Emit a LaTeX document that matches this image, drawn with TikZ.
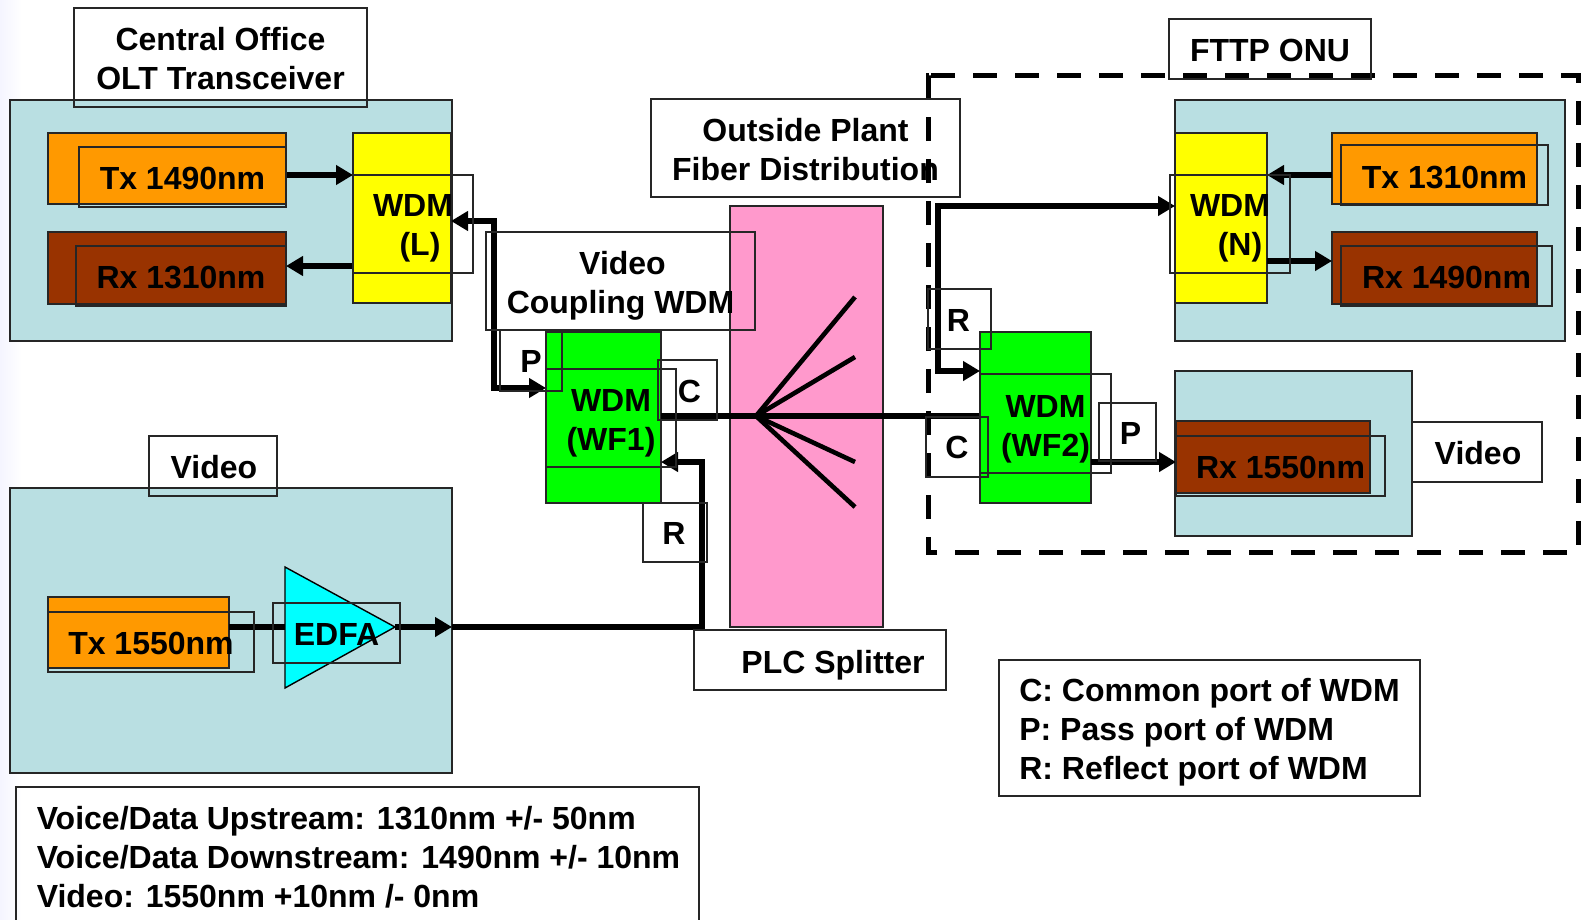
\documentclass[tikz,border=0pt]{standalone}
\usepackage{fontspec}
\setmainfont{Liberation Sans}
\usepackage{xcolor}
\usetikzlibrary{arrows.meta}

\definecolor{panelteal}{RGB}{185,223,226}
\definecolor{txorange}{RGB}{255,153,0}
\definecolor{rxbrown}{RGB}{153,51,0}
\definecolor{splitpink}{RGB}{255,153,204}
\definecolor{wdmyellow}{RGB}{255,255,0}
\definecolor{wdmgreen}{RGB}{0,255,0}
\definecolor{edfacyan}{RGB}{0,255,255}

\tikzset{
  area/.style 2 args={draw=black!85, line width=0.7pt, inner sep=0pt, outer sep=0pt,
    minimum width=#1*0.5pt, minimum height=#2*0.5pt},
  ltxt/.style={inner sep=0pt, align=center, font=\fontsize{16}{19.4}\selectfont\bfseries},
  fibre/.style={line width=2.7pt, black},
  fibrearrow/.style={fibre, -{Triangle[length=8.5pt,width=9.5pt]}},
  fibreboth/.style={fibre, {Triangle[length=8.5pt,width=9.5pt]}-{Triangle[length=8.5pt,width=9.5pt]}}
}

\begin{document}
\begin{tikzpicture}[x=0.5pt,y=-0.5pt]
\useasboundingbox (0,0) rectangle (1584,920);

% Faint edge of the slide
\shade [left color=blue!4, right color=white] (0,0) rectangle (22,920);

% Panels
\node[area={442}{241}, fill=panelteal] (copanel) at (231,220.5) {};
\node[area={442}{285}, fill=panelteal] (videopanel) at (231,630.5) {};
\node[area={390}{241}, fill=panelteal] (onupanel) at (1370,220.5) {};
\node[area={237}{165}, fill=panelteal] (rxvpanel) at (1293.5,453.5) {};

% Splitter
\node[area={153}{421}, fill=splitpink] (splitter) at (806.5,416.5) {};

% Coloured blocks
\node[area={238}{71}, fill=txorange] (txa) at (167,168.5) {};
\node[area={238}{72}, fill=rxbrown] (rxa) at (167,268) {};
\node[area={98}{170}, fill=wdmyellow] (wdml) at (402,218) {};
\node[area={92}{170}, fill=wdmyellow] (wdmn) at (1221,218) {};
\node[area={205}{71}, fill=txorange] (txb) at (1434.5,168.5) {};
\node[area={205}{72}, fill=rxbrown] (rxb) at (1434.5,268) {};
\node[area={115}{171}, fill=wdmgreen] (wfa) at (603.5,417.5) {};
\node[area={111}{171}, fill=wdmgreen] (wfb) at (1035.5,417.5) {};
\node[area={194}{72}, fill=rxbrown] (rxc) at (1273,457) {};
\node[area={181}{71}, fill=txorange] (txc) at (138.5,632.5) {};

\coordinate (edfaback) at (285,627);
\coordinate (edfatip) at (395,627);
\draw [draw=black, line width=0.7pt, fill=edfacyan] (285,567) -- (edfatip) -- (285,688) -- cycle;

% Levels of the fibre runs
\coordinate (txlevel) at (0,175);
\coordinate (rxlevel) at (0,266);
\coordinate (rxnlevel) at (0,261);
\coordinate (wdmllevel) at (0,221);
\coordinate (wdmnlevel) at (0,206);
\coordinate (plevel) at (0,388);
\coordinate (rlevel) at (0,371);
\coordinate (retlevel) at (0,462);
\coordinate (videolevel) at (0,627);
\coordinate (fanhub) at (756,416);
\coordinate (leftrun) at (494,0);
\coordinate (rightrun) at (938,0);
\coordinate (uprun) at (702,0);

% Fibre runs
\draw [fibrearrow] (txa.east |- txlevel) -- (wdml.west |- txlevel);
\draw [fibrearrow] (wdml.west |- rxlevel) -- (rxa.east |- rxlevel);
\draw [fibrearrow] (txb.west |- txlevel) -- (wdmn.east |- txlevel);
\draw [fibrearrow] (wdmn.east |- rxnlevel) -- (rxb.west |- rxnlevel);
\draw [fibreboth] (wfa.west |- plevel) -- (leftrun |- plevel) -- (leftrun |- wdmllevel) -- (wdml.east |- wdmllevel);
\draw [fibreboth] (wfb.west |- rlevel) -- (rightrun |- rlevel) -- (rightrun |- wdmnlevel) -- (wdmn.west |- wdmnlevel);
\draw [fibre] (wfa.east |- fanhub) -- (wfb.west |- fanhub);
\draw [fibrearrow] (wfb.east |- retlevel) -- (rxc.west |- retlevel);
\draw [fibre] (txc.east |- videolevel) -- (edfaback);
\draw [fibrearrow] (edfatip) -- (videopanel.east |- videolevel);
\draw [fibrearrow] (videopanel.east |- videolevel) -- (uprun |- videolevel) -- (uprun |- retlevel) -- (wfa.east |- retlevel);

% Splitter fan
\foreach \yend in {297,357,462,507}
{
  \coordinate (fanend) at (855,\yend);
  \draw [fibre, line width=2.3pt] (fanhub) -- (fanend);
}

% FTTP ONU outline
\draw [line width=2.5pt, dash pattern=on 12pt off 9pt] (931,76) -- (1578,76) -- (1578,552) -- (928,552) -- (928,76) -- (931,76);

% Text boxes
\node[area={293}{99}] (colabel) at (220.5,57.5) {};
\node[ltxt] (cotext) at (220.5,58.5) {Central Office\hspace{3pt}\\OLT Transceiver};
\node[area={207}{60}] (txalabel) at (182.5,177) {};
\node[ltxt] (txatext) at (182.5,178) {Tx 1490nm};
\node[area={210}{60}] (rxalabel) at (181,276) {};
\node[ltxt] (rxatext) at (181,278) {Rx 1310nm};
\node[area={120}{98}] (wdmllabel) at (413,224) {};
\node[ltxt] (wdmltext) at (413,228) {WDM\\\hspace{7pt}(L)};
\node[area={269}{98}] (couplabel) at (620.5,281) {};
\node[ltxt] (couptext) at (620.5,286) {\hspace{2pt}Video\\Coupling WDM};
\node[area={62}{61}] (pa) at (531,360.5) {};
\node[ltxt] (patext) at (531,361.5) {P};
\node[area={130}{98}] (wfalabel) at (611,418) {};
\node[ltxt] (wfatext) at (611,423.5) {WDM\hspace{4pt}\\(WF1)};
\node[area={59}{60}] (ca) at (687.5,390) {};
\node[ltxt] (catext) at (689.5,391) {C};
\node[area={64}{59}] (ra) at (675,532.5) {};
\node[ltxt] (ratext) at (674,533.5) {R};
\node[area={309}{98}] (osplabel) at (805.5,148) {};
\node[ltxt] (osptext) at (805.5,149.5) {Outside Plant\hspace{3pt}\\Fiber Distribution};
\node[area={252}{60}] (plclabel) at (820,660) {};
\node[ltxt] (plctext) at (833,665) {PLC Splitter};
\node[area={128}{60}] (videolabel) at (213,466) {};
\node[ltxt] (videotext) at (214,467) {Video};
\node[area={206}{60}] (txclabel) at (151,642) {};
\node[ltxt] (txctext) at (151,643) {Tx 1550nm};
\node[area={127}{60}] (edfalabel) at (336.5,633) {};
\node[ltxt] (edfatext) at (336.5,634) {EDFA};
\node[area={202}{60}] (fttplabel) at (1270,49) {};
\node[ltxt] (fttptext) at (1270,50) {FTTP ONU};
\node[area={120}{98}] (wdmnlabel) at (1230,224) {};
\node[ltxt] (wdmntext) at (1230,228) {WDM\\\hspace{10pt}(N)};
\node[area={207}{60}] (txblabel) at (1444.5,175) {};
\node[ltxt] (txbtext) at (1444.5,178) {Tx 1310nm};
\node[area={211}{60}] (rxblabel) at (1446.5,276) {};
\node[ltxt] (rxbtext) at (1446.5,277) {Rx 1490nm};
\node[area={63}{60}] (rb) at (959.5,319) {};
\node[ltxt] (rbtext) at (958.5,320) {R};
\node[area={62}{60}] (cb) at (957,447) {};
\node[ltxt] (cbtext) at (957,447) {C};
\node[area={131}{99}] (wfblabel) at (1045.5,423.5) {};
\node[ltxt] (wfbtext) at (1045.5,429) {WDM\hspace{4pt}\\(WF2)};
\node[area={57}{58}] (pb) at (1127.5,432) {};
\node[ltxt] (pbtext) at (1130.5,433) {P};
\node[area={209}{60}] (rxclabel) at (1280.5,466) {};
\node[ltxt] (rxctext) at (1280.5,467) {Rx 1550nm};
\node[area={130}{60}] (videoblabel) at (1477,452) {};
\node[ltxt] (videobtext) at (1478,453) {Video};

% Legends
\node[area={683}{140}] (bandlegend) at (357.5,857) {};
\node[ltxt, align=left] (bandtext) at (358.5,857) {Voice/Data Upstream: 1310nm +/- 50nm\\Voice/Data Downstream: 1490nm +/- 10nm\\Video: 1550nm +10nm /- 0nm};
\node[area={421}{136}] (portlegend) at (1209.5,728) {};
\node[ltxt, align=left] (porttext) at (1209.5,732) {C: Common port of WDM\\P: Pass port of WDM\\R: Reflect port of WDM};

\end{tikzpicture}
\end{document}
